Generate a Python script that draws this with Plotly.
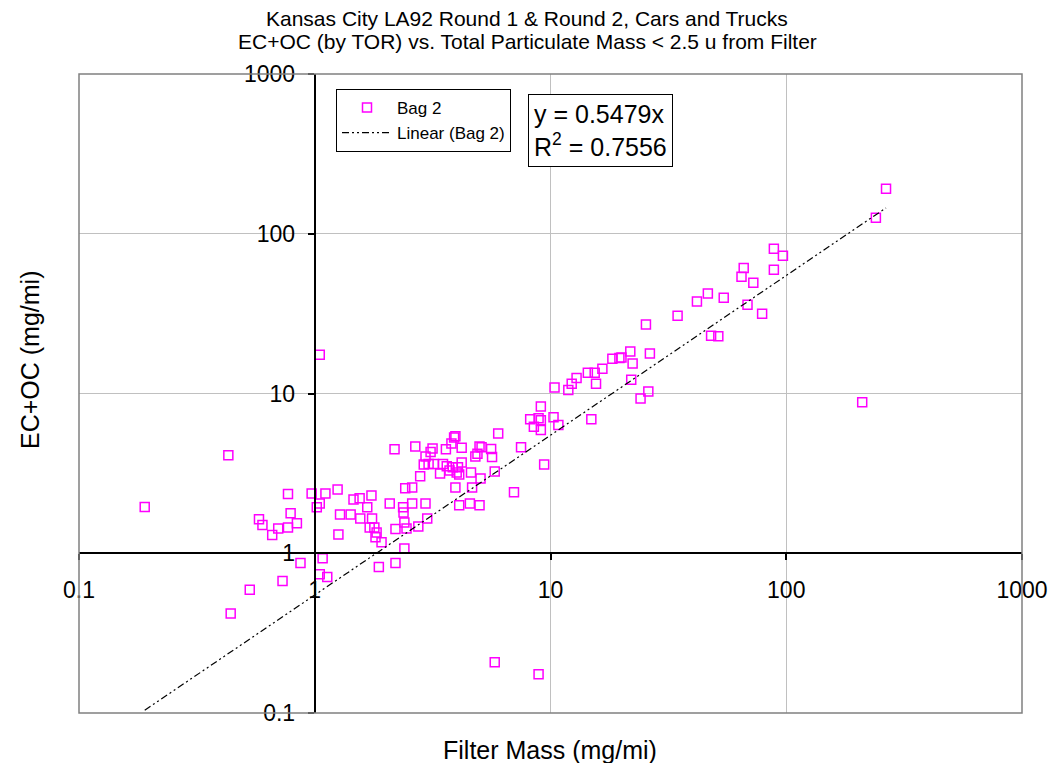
import plotly.graph_objects as go

# ---- data ----
filter_mass = [
    0.19, 0.43, 0.44, 0.53, 0.58, 0.60, 0.66, 0.70, 0.77, 0.84,
    0.79, 0.77, 0.73, 0.87, 0.97, 1.11, 1.25, 1.02, 1.05, 1.05,
    1.08, 1.05, 1.13, 1.26, 1.28, 1.42, 1.46, 1.55, 1.74, 1.56,
    1.67, 1.75, 1.71, 1.79, 1.83, 1.81, 1.92, 1.87, 2.2, 2.08,
    2.18, 2.37, 2.38, 2.42, 2.59, 2.59, 2.95, 2.4, 2.45, 2.2,
    2.75, 3.0, 2.4, 2.67, 2.8, 2.9, 2.95, 3.16, 3.1, 3.04,
    3.2, 3.5, 3.4, 3.6, 3.63, 3.8, 3.9, 3.95, 3.85, 3.73,
    4.0, 4.1, 4.05, 4.2, 4.2, 3.95, 4.6, 4.65, 4.1, 4.55,
    5.0, 4.8, 4.9, 5.0, 5.1, 5.05, 5.6, 5.65, 5.8, 6.0,
    7.0, 7.5, 8.2, 8.5, 8.9, 9.1, 9.1, 9.1, 9.4, 10.3,
    10.8, 10.4, 11.9, 12.3, 12.9, 14.9, 14.4, 15.4, 15.6, 16.6,
    18.3, 19.6, 20.0, 21.8, 22.3, 22.0, 24.1, 26.0, 26.4, 25.4,
    34.6, 41.8, 46.5, 54.3, 48.0, 51.5, 68.5, 79.0, 64.6, 66.0,
    72.5, 88.6, 96.8, 88.6, 210, 265, 240, 5.8, 8.9,
]
ec_oc = [
    1.95, 4.1, 0.42, 0.59, 1.63, 1.5, 1.3, 1.43, 1.45, 1.54,
    1.78, 2.35, 0.67, 0.87, 2.37, 2.37, 2.51, 1.94, 2.05, 17.5,
    0.93, 0.74, 0.71, 1.31, 1.75, 1.75, 2.17, 2.21, 2.30, 1.65,
    1.94, 1.65, 1.45, 1.45, 1.35, 1.26, 1.17, 0.82, 0.87, 2.05,
    4.47, 1.94, 1.8, 2.55, 2.58, 2.05, 2.05, 1.56, 1.43, 1.42,
    1.47, 1.65, 1.07, 4.66, 3.03, 3.6, 4.04, 4.53, 4.3, 3.62,
    3.62, 3.62, 3.16, 4.47, 3.5, 4.87, 5.3, 5.4, 3.45, 3.3,
    3.2, 3.11, 3.45, 3.7, 4.57, 2.58, 3.2, 2.58, 2.0, 2.05,
    2.0, 4.04, 4.2, 4.66, 4.6, 2.94, 4.5, 4.0, 3.25, 5.62,
    2.41, 4.6, 6.9, 6.2, 7.0, 6.8, 8.3, 5.9, 3.6, 7.1,
    6.35, 10.9, 10.5, 11.5, 12.5, 6.9, 13.5, 13.5, 11.5, 14.3,
    16.5, 16.7, 16.8, 18.3, 15.4, 12.2, 9.3, 10.3, 17.8, 27.0,
    30.7, 37.6, 42.2, 39.8, 23.0, 22.8, 36.0, 31.6, 53.8, 61.0,
    49.4, 80.5, 72.9, 59.6, 8.8, 191, 126, 0.208, 0.175,
]
SLOPE = 0.5479
R_SQUARED = 0.7556

x_tick_vals = [0.1, 1, 10, 100, 1000]
x_tick_text = ["0.1", "1", "10", "100", "1000"]
y_tick_vals = [0.1, 1, 10, 100, 1000]
y_tick_text = ["0.1", "1", "10", "100", "1000"]

title_lines = [
    "Kansas City LA92 Round 1 &amp; Round 2, Cars and Trucks",
    "EC+OC (by TOR) vs. Total Particulate Mass &lt; 2.5 u from Filter",
]

FONT = "Liberation Sans, Arial, sans-serif"

# plot-area geometry in pixels (for placing free texts)
PL, PR, PT, PB = 79, 1022, 74, 713
PW, PH = PR - PL, PB - PT

def py(pix):
    return (PB - pix) / PH

def px(pix):
    return (pix - PL) / PW

# trendline endpoints follow the data range
x_line = [min(filter_mass), max(filter_mass)]
y_line = [SLOPE * v for v in x_line]

fig = go.Figure()
fig.add_trace(go.Scatter(
    x=filter_mass, y=ec_oc, mode="markers", name="Bag 2",
    marker=dict(symbol="square-open", size=9, color="#FF00FF",
                line=dict(color="#FF00FF", width=1.5)),
))
fig.add_trace(go.Scatter(
    x=x_line, y=y_line, mode="lines", name="Linear (Bag 2)",
    line=dict(color="black", width=1.2, dash="7px,3px,2px,3px,2px,3px"),
))

axis_common = dict(
    type="log", range=[-1, 3], domain=[0, 1], anchor="free", position=0.25,
    automargin=False,
    showline=True, linecolor="black", linewidth=2,
    ticks="outside", ticklen=6, tickwidth=2, tickcolor="black",
    tickmode="array",
    tickfont=dict(size=23, family=FONT, color="black"),
    showgrid=True, gridcolor="#c0c0c0", gridwidth=1, zeroline=False,
)

annotations = [
    dict(text=title_lines[0], xref="paper", yref="paper", x=px(527), y=py(18),
         xanchor="center", yanchor="middle", showarrow=False,
         font=dict(size=21, family=FONT, color="black")),
    dict(text=title_lines[1], xref="paper", yref="paper", x=px(527), y=py(42),
         xanchor="center", yanchor="middle", showarrow=False,
         font=dict(size=21, family=FONT, color="black")),
    dict(text=f"y = {SLOPE}x<br>R<sup>2</sup> = {R_SQUARED}",
         xref="paper", yref="paper", x=px(600), y=py(130),
         xanchor="center", yanchor="middle", align="left", showarrow=False,
         font=dict(size=25, family=FONT, color="black"),
         bordercolor="black", borderwidth=1, borderpad=5, bgcolor="white"),
    dict(text="Filter Mass (mg/mi)", xref="paper", yref="paper",
         x=px(550), y=py(750), xanchor="center", yanchor="middle",
         showarrow=False, font=dict(size=25, family=FONT, color="black")),
    dict(text="EC+OC (mg/mi)", xref="paper", yref="paper",
         x=px(30), y=py(360), xanchor="center", yanchor="middle",
         textangle=-90, showarrow=False,
         font=dict(size=25, family=FONT, color="black")),
]

fig.update_layout(
    width=1052, height=763, autosize=False,
    margin=dict(l=PL, r=1052 - PR, t=PT, b=763 - PB, autoexpand=False),
    paper_bgcolor="white", plot_bgcolor="white",
    font=dict(family=FONT, color="black"),
    xaxis=dict(axis_common, tickvals=x_tick_vals, ticktext=x_tick_text,
               ticklabelstandoff=10),
    yaxis=dict(axis_common, tickvals=y_tick_vals, ticktext=y_tick_text,
               ticklabelstandoff=8),
    showlegend=True,
    legend=dict(
        x=px(336), y=py(89), xanchor="left", yanchor="top",
        bordercolor="black", borderwidth=1, bgcolor="white",
        font=dict(size=17, family=FONT, color="black"),
        itemwidth=50, tracegroupgap=0,
    ),
    shapes=[dict(type="rect", xref="paper", yref="paper", x0=0, y0=0, x1=1, y1=1,
                 line=dict(color="#808080", width=1.5), layer="above")],
    annotations=annotations,
)

fig.write_html("out.html")
